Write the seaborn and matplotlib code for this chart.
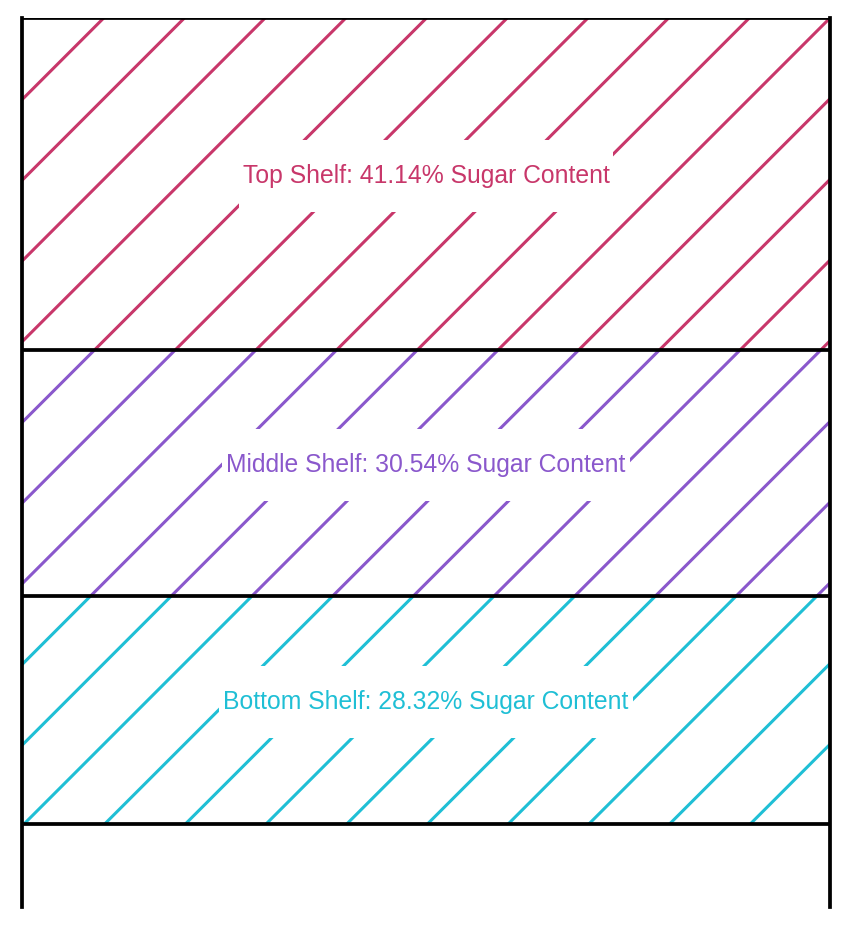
import matplotlib
matplotlib.use("Agg")
import matplotlib.pyplot as plt
import seaborn as sns
import pandas as pd
from matplotlib.collections import LineCollection
from matplotlib.patches import Rectangle
from matplotlib.transforms import IdentityTransform

# data
shelves = ["Top Shelf", "Middle Shelf", "Bottom Shelf"]
sugar = [41.14, 30.54, 28.32]
colors = ["#c8376a", "#8a58cc", "#1fbfd5"]

df = pd.DataFrame({"shelf": shelves, "sugar": sugar, "color": colors})
df["start"] = df["sugar"].cumsum() - df["sugar"]

sns.set_style("white")
plt.rcParams["font.family"] = ["Liberation Sans", "DejaVu Sans"]

fig = plt.figure(figsize=(8.55, 9.34), dpi=100)
ax = fig.add_axes([22 / 855, 27 / 934, 808 / 855, 889 / 934])

bars = []
for _, row in df.iterrows():
    sns.barplot(x=[0], y=[row["sugar"]], bottom=row["start"], width=1,
                color="white", edgecolor="none", linewidth=0,
                errorbar=None, ax=ax)
    bars.append(ax.patches[-1])

ax.set_xlim(-0.5, 0.5)
ax.set_ylim(110.3, 0)
ax.set_xticks([])
ax.set_yticks([])
ax.set_xlabel("")
ax.set_ylabel("")
for side in ["top", "bottom"]:
    ax.spines[side].set_visible(False)
for side in ["left", "right"]:
    ax.spines[side].set_color("black")
    ax.spines[side].set_linewidth(2.7)

# shelf boundaries
edges = list(df["start"]) + [df["sugar"].sum()]
for e in edges:
    ax.axhline(e, color="black", lw=2.7, zorder=3)

# hand-made diagonal hatching, anchored at the top-right corner
x0, x1 = ax.bbox.x0, ax.bbox.x1
y_top = ax.transData.transform((0, 0))[1]
spacing = 80.7
b_anchor = y_top - x1
segs = []
for k in range(-16, 16):
    b = b_anchor - k * spacing
    segs.append([(x0 - 20, x0 - 20 + b), (x1 + 20, x1 + 20 + b)])

for bar, c in zip(bars, df["color"]):
    lc = LineCollection(segs, colors=c, linewidths=2.2, capstyle="round",
                        transform=IdentityTransform(), zorder=2)
    ax.add_collection(lc, autolim=False)
    lc.set_clip_path(bar)

texts = []
for _, row in df.iterrows():
    t = ax.text(0, row["start"] + row["sugar"] / 2 - 1.0,
                f"{row['shelf']}: {row['sugar']:.2f}% Sugar Content",
                ha="center", va="center", color=row["color"], fontsize=17.8, zorder=5)
    texts.append(t)

fig.canvas.draw()
renderer = fig.canvas.get_renderer()
for t in texts:
    bb = t.get_window_extent(renderer)
    cy = (bb.y0 + bb.y1) / 2
    gap = Rectangle((bb.x0 - 4, cy - 36), bb.width + 8, 72,
                    facecolor="white", edgecolor="none",
                    transform=IdentityTransform(), zorder=4)
    ax.add_artist(gap)

fig.savefig("out.png", dpi=100)
